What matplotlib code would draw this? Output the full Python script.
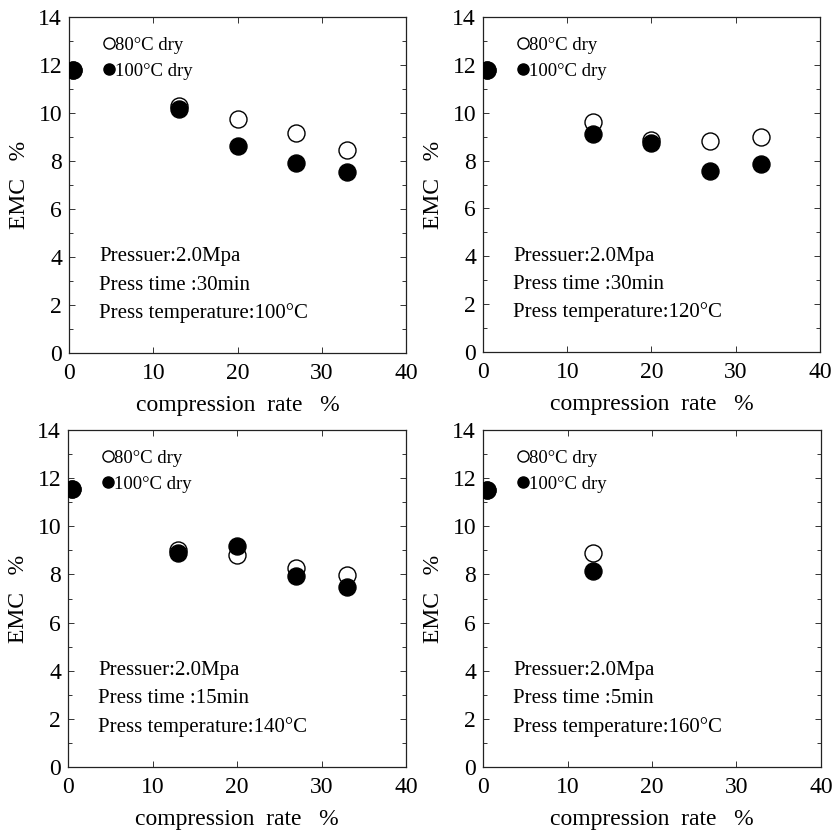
import matplotlib
matplotlib.use("Agg")
import matplotlib.pyplot as plt
from matplotlib.ticker import MultipleLocator
from matplotlib.lines import Line2D

plt.rcParams['font.family'] = ['Liberation Serif', 'DejaVu Serif']

# Data
x_p1 = [0.5, 13, 20, 27, 33]
open_p1 = [11.8, 10.3, 9.74, 9.15, 8.47]
fill_p1 = [11.8, 10.15, 8.64, 7.90, 7.55]

x_p2 = [0.5, 13, 20, 27, 33]
open_p2 = [11.8, 9.6, 8.85, 8.8, 9.0]
fill_p2 = [11.8, 9.11, 8.72, 7.55, 7.86]

x_p3 = [0.5, 13, 20, 27, 33]
open_p3 = [11.55, 9.01, 8.80, 8.25, 7.96]
fill_p3 = [11.55, 8.87, 9.19, 7.93, 7.46]

x_p4 = [0.5, 13]
open_p4 = [11.5, 8.91]
fill_p4 = [11.5, 8.14]

series_labels = ['80°C dry', '100°C dry']
notes = [
    ['Pressuer:2.0Mpa', 'Press time :30min', 'Press temperature:100°C'],
    ['Pressuer:2.0Mpa', 'Press time :30min', 'Press temperature:120°C'],
    ['Pressuer:2.0Mpa', 'Press time :15min', 'Press temperature:140°C'],
    ['Pressuer:2.0Mpa', 'Press time :5min', 'Press temperature:160°C'],
]
xlabel = 'compression  rate   %'
ylabel = 'EMC   %'

panels = [(x_p1, open_p1, fill_p1), (x_p2, open_p2, fill_p2),
          (x_p3, open_p3, fill_p3), (x_p4, open_p4, fill_p4)]

fig = plt.figure(figsize=(8.34, 8.33), dpi=100)
W, H = 834, 833
boxes = [(69, 17, 406, 353), (483, 17, 820, 352), (68, 430, 406, 767), (483, 430, 821, 767)]

for i, ((xs, op, fi), (l, t, r, b)) in enumerate(zip(panels, boxes)):
    ax = fig.add_axes([l / W, 1 - b / H, (r - l) / W, (b - t) / H])
    ax.scatter(xs, op, s=150, facecolors='white', edgecolors='black', linewidths=1.0, zorder=3)
    ax.scatter(xs, fi, s=150, facecolors='black', edgecolors='black', linewidths=1.0, zorder=4)
    ax.set_xlim(0, 40)
    ax.set_ylim(0, 14)
    ax.xaxis.set_major_locator(MultipleLocator(10))
    ax.yaxis.set_major_locator(MultipleLocator(2))
    ax.yaxis.set_minor_locator(MultipleLocator(1))
    ax.tick_params(which='both', direction='in', top=True, right=True, labelsize=17,
                   width=0.7, color='#333333')
    ax.tick_params(axis='x', pad=7)
    ax.tick_params(axis='y', pad=5)
    ax.tick_params(which='major', length=4)
    ax.tick_params(which='minor', length=3)
    for sp in ax.spines.values():
        sp.set_linewidth(0.9)
        sp.set_color('#222222')
    ax.set_xlabel(xlabel, fontsize=17, labelpad=8)
    ax.set_ylabel(ylabel, fontsize=17, labelpad=6)
    handles = [Line2D([], [], ls='none', marker='o', markersize=8, markerfacecolor='white',
                      markeredgecolor='black', markeredgewidth=1.0),
               Line2D([], [], ls='none', marker='o', markersize=8, markerfacecolor='black',
                      markeredgecolor='black')]
    ax.legend(handles, series_labels, loc='upper left', bbox_to_anchor=(0.045, 0.98),
              frameon=False, fontsize=13.5, handletextpad=-0.25, handlelength=1.2,
              labelspacing=0.45, borderpad=0.2)
    for j, txt in enumerate(notes[i]):
        ax.text(3.6, 4.0 - j * 1.17, txt, fontsize=15, va='center', ha='left')

fig.savefig('out.png', dpi=100)
